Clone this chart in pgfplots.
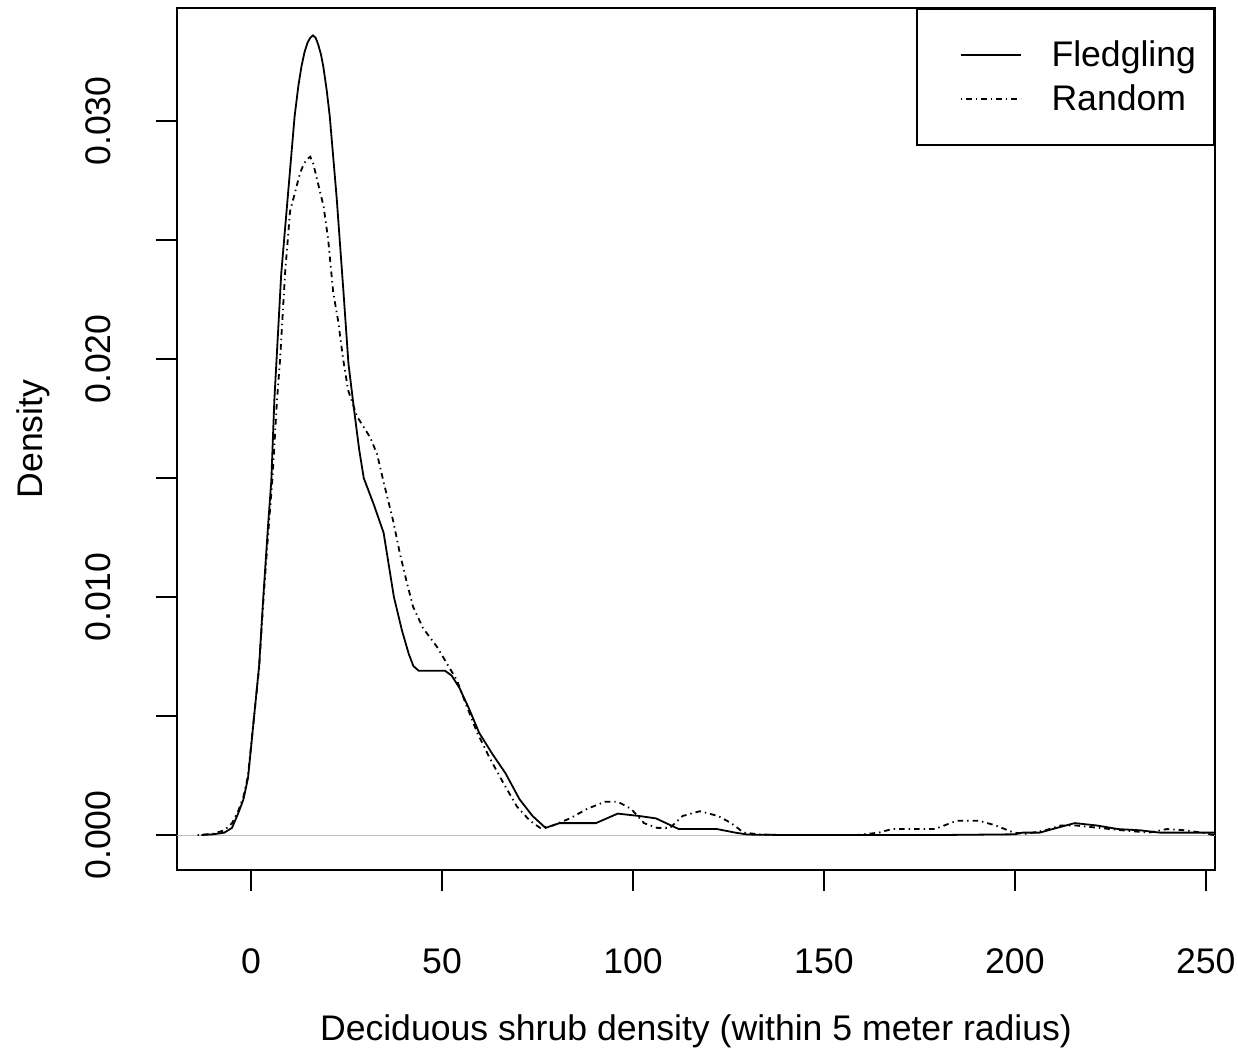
\documentclass[border=0pt]{standalone}
\usepackage{fontspec}
\setmainfont{Liberation Sans}
\usepackage{pgfplots}
\pgfplotsset{compat=1.18}
\newcommand\myfont{\fontsize{17.8}{21.4}\selectfont}
\definecolor{zerogray}{HTML}{BEBEBE}

\begin{document}
\begin{tikzpicture}[font=\myfont]
\begin{axis}[
  scale only axis, width=519pt, height=431pt,
  xmin=-19.4, xmax=252.4, ymin=-0.00147, ymax=0.03475,
  axis line style={line width=1pt},
  tick pos=left, tick align=outside, major tick length=10.5pt,
  every tick/.style={black, line width=0.8pt},
  xtick={0,50,100,150,200,250},
  ytick={0,0.01,0.02,0.03},
  extra y ticks={0.005,0.015,0.025}, extra y tick labels={},
  scaled y ticks=false, scaled x ticks=false,
  /pgf/number format/assume math mode=true,
  xticklabel style={font=\myfont, anchor=north, inner sep=0pt},
  xticklabel shift=28.5pt,
  yticklabel style={font=\myfont, /pgf/number format/.cd, fixed, fixed zerofill, precision=3, /tikz/.cd, rotate=90, anchor=south, inner sep=0pt},
  yticklabel shift=22.5pt,
  xlabel={Deciduous shrub density (within 5 meter radius)},
  ylabel={Density},
  every axis x label/.style={at={(rel axis cs:0.5,0)}, anchor=north, yshift=-72pt, inner sep=0pt, font=\myfont},
  every axis y label/.style={at={(rel axis cs:0,0.5)}, xshift=-72pt, rotate=90, anchor=center, inner sep=0pt, font=\myfont},
  legend style={at={(rel axis cs:1,1)}, anchor=north east, draw=black, line width=1pt, fill=white,
    inner xsep=9pt, inner ysep=15.8pt, row sep=7.8pt, font=\myfont,
    nodes={inner sep=0pt, anchor=west},
    /tikz/every odd column/.append style={column sep=15pt}},
  legend cell align=left,
  legend image code/.code={\path (0pt,0pt); \draw[#1] (12.5pt,0pt) -- (42.5pt,0pt);},
]
\addplot[zerogray, line width=0.5pt, forget plot] coordinates {(-19.4,0) (252.4,0)};

\addplot[black, line width=0.9pt] coordinates {
(-13,0) (-10,0.00003) (-7,0.0001) (-5,0.0003) (-3.4,0.0009) (-2,0.0015) (-0.8,0.0024)
(0.8,0.0050) (2.1,0.0071) (3.2,0.0100) (4.4,0.0129) (5.3,0.0149) (6.1,0.0183)
(7.9,0.0236) (9.6,0.0268) (11.4,0.0302) (12.4,0.0315) (13.2,0.0323) (14.0,0.0329) (14.8,0.0333) (15.5,0.0335) (16.2,0.0336)
(16.9,0.0335) (17.6,0.0332) (18.3,0.0328) (18.9,0.0323) (19.8,0.0313) (20.6,0.0302) (22.4,0.0268) (24.2,0.0228) (25.5,0.0198)
(27.1,0.0177) (28.3,0.0162) (29.5,0.0150) (32.1,0.0139) (34.7,0.0127) (37.4,0.0100) (39.5,0.0086)
(41.3,0.0076) (42.5,0.0071) (43.9,0.0069) (50.8,0.0069) (52.5,0.0067) (54.5,0.0062) (57.1,0.0053) (59.7,0.0043)
(63.2,0.0034) (66.6,0.0026) (70.3,0.0015) (73.7,0.0008) (77.1,0.0003) (80.8,0.0005)
(84.2,0.0005) (90.3,0.0005) (96,0.0009) (101.6,0.0008) (106,0.0007) (112,0.00025)
(122,0.00025) (126.8,0.0001) (130,0.00002) (140,0) (160,0) (180,0) (200,0.00003)
(202,0.0001) (206.5,0.0001) (211,0.0003) (215.7,0.0005) (221.5,0.0004) (227,0.00025)
(232.7,0.0002) (238,0.0001) (245,0.0001) (254,0.0001)
};
\addlegendentry{Fledgling}

\addplot[black, line width=0.9pt, dash pattern=on 0.7pt off 2pt on 2.8pt off 2pt] coordinates {
(-14,0) (-10,0.00005) (-7,0.0002) (-5,0.0005) (-3.4,0.0010) (-2,0.0016) (-0.8,0.0025)
(0.8,0.0050) (2.1,0.0070) (3.2,0.0098) (4.4,0.0125) (5.6,0.0150) (6.8,0.0183)
(7.6,0.0200) (8.9,0.0236) (10.2,0.0262) (11.5,0.0270) (12.8,0.0278) (13.8,0.0282) (14.7,0.0284)
(15.5,0.0285) (16.3,0.0282) (17.2,0.0276) (19,0.0264) (20.2,0.0250) (21.5,0.0228) (22.8,0.0216)
(24.1,0.0200) (25.4,0.0187) (27.7,0.0176) (31.2,0.0167) (33,0.0160) (34.6,0.0149)
(37.2,0.0132) (39,0.0118) (40.8,0.0106) (42.4,0.0096) (45,0.0087) (48.7,0.0079)
(51.3,0.0072) (53.9,0.0065) (56.5,0.0054) (59.2,0.0043) (62.6,0.0032) (66,0.0022)
(69.6,0.0012) (73,0.0006) (75.7,0.0003) (79,0.0004) (83.5,0.0007) (88,0.0011)
(92.7,0.0014) (96,0.0014) (99.5,0.0011) (102.9,0.0005) (106.3,0.0003) (109.7,0.0003)
(113,0.0008) (117.5,0.0010) (122.3,0.0008) (125.7,0.0005) (129,0.0001) (133.5,0.00002)
(140,0) (158.6,0) (164.4,0.0001) (167.8,0.00025) (179,0.00025) (184.8,0.0006)
(190.6,0.0006) (195,0.0004) (199.7,0.0001) (203,0.00005) (208,0.0002) (212,0.0004)
(216,0.0004) (222,0.0003) (228,0.0002) (235,0.0001) (239.8,0.00025) (244.5,0.0002)
(249,0.0001) (252,0) (256,0)
};
\addlegendentry{Random}

\coordinate (sw) at (rel axis cs:0,0);
\coordinate (ne) at (rel axis cs:1,1);
\end{axis}
\pgfresetboundingbox
\path ([shift={(-88.5pt,-91pt)}]sw) rectangle ([shift={(11.5pt,4pt)}]ne);
\end{tikzpicture}
\end{document}
